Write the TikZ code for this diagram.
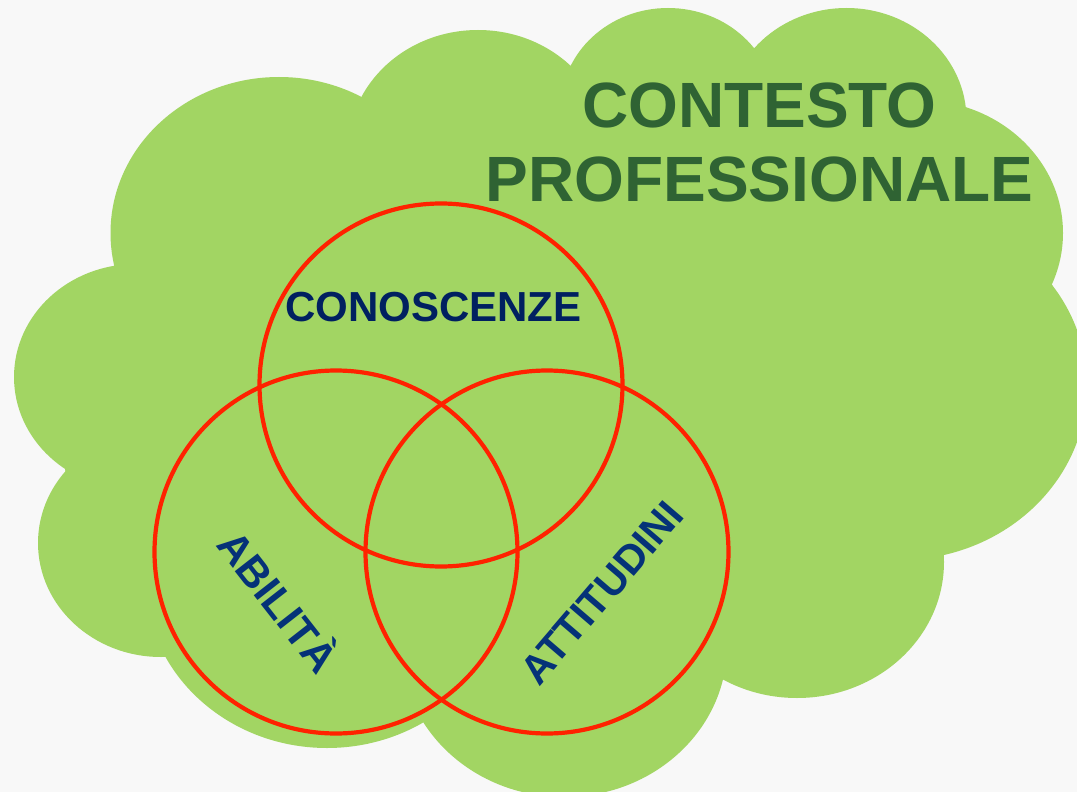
\documentclass[tikz,border=0pt]{standalone}
\usepackage{fontspec}
\setmainfont{Liberation Sans}
\definecolor{bgc}{HTML}{F8F8F8}
\definecolor{cloudc}{HTML}{A2D563}
\definecolor{ctxc}{HTML}{2F6333}
\definecolor{redc}{HTML}{FF2200}
\definecolor{navyc}{HTML}{002060}
\definecolor{bluec}{HTML}{053278}
\tikzset{
  cloudfill/.style={fill=cloudc, draw=none},
  ctx/.style={text=ctxc, font=\bfseries\fontsize{64}{74}\selectfont, inner sep=0pt},
  venn/.style={draw=redc, line width=4.2pt},
  lbl/.style={font=\bfseries\fontsize{42}{48}\selectfont, inner sep=0pt},
}
\begin{document}
\begin{tikzpicture}[x=1pt,y=-1pt]
\fill[bgc] (0,0) rectangle (1077,792);
\useasboundingbox (0,0) rectangle (1077,792);
\begin{scope}
\clip (0,0) rectangle (1077,792);
% cloud core polygon through the cusps
\fill[cloudc] (111,268) -- (362.6,98) -- (571,66) -- (754,48) -- (966,107) -- (1053,287)
  -- (943,555) -- (723,678) -- (423,722) -- (160,652) -- (65,470) -- cycle;
% cloud lobes
\fill[cloudfill] (279,233) ellipse [x radius=168.5pt, y radius=156pt];
\fill[cloudfill] (478,150) ellipse [x radius=130pt, y radius=120pt];
\fill[cloudfill] (668,107) ellipse [x radius=107pt, y radius=99pt];
\fill[cloudfill] (846.5,119.5) ellipse [x radius=120pt, y radius=111.5pt];
\fill[cloudfill] (919,233) ellipse [x radius=144pt, y radius=133pt];
\fill[cloudfill] (899,386) ellipse [x radius=188pt, y radius=174pt];
\fill[cloudfill] (797,562) ellipse [x radius=147pt, y radius=136pt];
\fill[cloudfill] (564,646) ellipse [x radius=163pt, y radius=151pt];
\fill[cloudfill] (327,579) ellipse [x radius=182pt, y radius=169pt];
\fill[cloudfill] (161,543) ellipse [x radius=123pt, y radius=114pt];
\fill[cloudfill] (136,377) ellipse [x radius=122pt, y radius=113pt];
\end{scope}
% title
\node[ctx, anchor=base] (ctx1) at (759.5,127.5) {CONTESTO};
\node[ctx, anchor=base] (ctx2) at (759.5,201.5) {PROFESSIONALE};
% venn circles
\draw[venn] (441,385) circle [radius=181.5pt];
\draw[venn] (336,552) circle [radius=181.5pt];
\draw[venn] (547,552) circle [radius=181.5pt];
% labels
\node[lbl, text=navyc, anchor=base] (con) at (433.5,321.5) {CONOSCENZE};
\node[lbl, text=bluec, anchor=base, rotate=-52] (abi) at (266,611) {ABILITÀ};
\node[lbl, text=bluec, anchor=base, rotate=49.4, font=\bfseries\fontsize{41}{48}\selectfont] (att) at (612.5,601.7) {ATTITUDINI};
\end{tikzpicture}
\end{document}
